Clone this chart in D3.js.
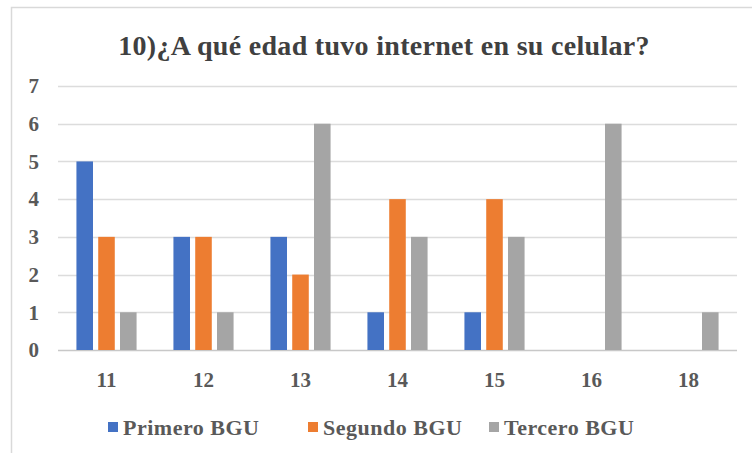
<!DOCTYPE html>
<html>
<head>
<meta charset="utf-8">
<script src="https://cdn.jsdelivr.net/npm/d3@7"></script>
<style>
  body { margin: 0; background: #fff; }
  #chart { font-family: "Liberation Serif", Tinos, "Times New Roman", Times, "Noto Serif", "DejaVu Serif", serif; font-weight: bold; }
</style>
</head>
<body>
<svg id="chart" width="752" height="453"></svg>
<script>
// chart values
const ages = ["11", "12", "13", "14", "15", "16", "18"];
const seriesNames = ["Primero BGU", "Segundo BGU", "Tercero BGU"];
const primero = [5, 3, 3, 1, 1, 0, 0];
const segundo = [3, 3, 2, 4, 4, 0, 0];
const tercero = [1, 1, 6, 3, 3, 6, 1];
const yTicks = [0, 1, 2, 3, 4, 5, 6, 7];
const colors = ["#4472C4", "#ED7D31", "#A5A5A5"];

const values = [primero, segundo, tercero];
const W = 752, H = 453;
const plot = {left: 58, right: 737, top: 86, bottom: 350};

const svg = d3.select("#chart");

// chart frame (only left/top edges show in the source)
svg.append("path")
    .attr("d", `M11.5,${H} V7.5 H${W}`)
    .attr("fill", "none")
    .attr("stroke", "#d9d9d9")
    .attr("stroke-width", 1.5);

svg.append("text")
    .attr("x", 384)
    .attr("y", 55)
    .attr("text-anchor", "middle")
    .attr("font-size", 28)
    .attr("letter-spacing", 0.3)
    .attr("fill", "#404040")
    .text("10)¿A qué edad tuvo internet en su celular?");

const y = d3.scaleLinear().domain([0, 7]).range([plot.bottom, plot.top]);
const x0 = d3.scaleBand().domain(ages).range([plot.left, plot.right])
    .paddingInner(0.38).paddingOuter(0.19);
const x1 = d3.scaleBand().domain(d3.range(seriesNames.length)).range([0, x0.bandwidth()])
    .paddingInner(0.24);

// gridlines
svg.append("g")
    .selectAll("line")
    .data(yTicks)
    .join("line")
    .attr("x1", plot.left)
    .attr("x2", plot.right)
    .attr("y1", d => Math.round(y(d)) + 0.5)
    .attr("y2", d => Math.round(y(d)) + 0.5)
    .attr("stroke", d => d === 0 ? "#c8c8c8" : "#dcdcdc")
    .attr("stroke-width", 1.5);

// y labels
svg.append("g")
    .selectAll("text")
    .data(yTicks)
    .join("text")
    .attr("x", 39)
    .attr("y", d => y(d))
    .attr("dy", "0.35em")
    .attr("text-anchor", "end")
    .attr("font-size", 21)
    .attr("fill", "#595959")
    .text(d => d);

// bars
const groups = svg.append("g")
    .selectAll("g")
    .data(ages)
    .join("g")
    .attr("transform", d => `translate(${x0(d)},0)`);

groups.selectAll("rect")
    .data((d, i) => values.map((s, k) => ({k, v: s[i]})))
    .join("rect")
    .attr("x", d => x1(d.k))
    .attr("width", x1.bandwidth())
    .attr("y", d => y(d.v))
    .attr("height", d => y(0) - y(d.v))
    .attr("fill", d => colors[d.k]);

// x labels
svg.append("g")
    .selectAll("text")
    .data(ages)
    .join("text")
    .attr("x", d => x0(d) + x0.bandwidth() / 2)
    .attr("y", 380)
    .attr("dy", "0.35em")
    .attr("text-anchor", "middle")
    .attr("font-size", 21)
    .attr("fill", "#595959")
    .text(d => d);

// legend
const legendX = [108, 308, 489];
const legend = svg.append("g")
    .selectAll("g")
    .data(seriesNames)
    .join("g")
    .attr("transform", (d, i) => `translate(${legendX[i]},427)`);

legend.append("rect")
    .attr("x", 0)
    .attr("y", -5)
    .attr("width", 10)
    .attr("height", 10)
    .attr("fill", (d, i) => colors[i]);

legend.append("text")
    .attr("x", 15)
    .attr("y", 0)
    .attr("dy", "0.35em")
    .attr("font-size", 22)
    .attr("letter-spacing", 0.5)
    .attr("fill", "#595959")
    .text(d => d);
</script>
</body>
</html>
